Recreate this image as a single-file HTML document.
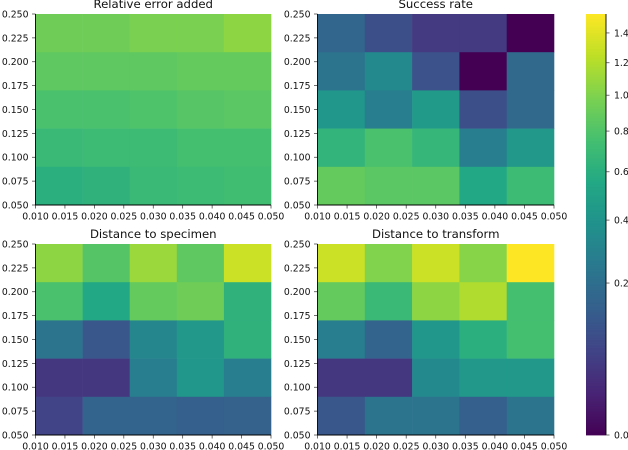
<!DOCTYPE html>
<html>
<head>
<meta charset="utf-8">
<title>Heatmap panels</title>
<style>
html,body{margin:0;padding:0;background:#fff;width:628px;height:450px;overflow:hidden}
svg{display:block}
text{font-family:"DejaVu Sans","Liberation Sans",sans-serif;fill:#111}
</style>
</head>
<body>
<svg id="chart" width="628" height="450" viewBox="0 0 628 450" xmlns="http://www.w3.org/2000/svg"></svg>
<script>
const xTicks = ['0.010','0.015','0.020','0.025','0.030','0.035','0.040','0.045','0.050'];
const yTicks = ['0.050','0.075','0.100','0.125','0.150','0.175','0.200','0.225','0.250'];
const colorbarTicks = [0, 0.2, 0.4, 0.6, 0.8, 1.0, 1.2, 1.4];
const titles = ['Relative error added', 'Success rate', 'Distance to specimen', 'Distance to transform'];
// rows run from the top of the panel to the bottom
const relativeError = [
  [0.934, 0.934, 0.982, 0.982, 1.057],
  [0.863, 0.863, 0.863, 0.887, 0.887],
  [0.774, 0.774, 0.796, 0.829, 0.841],
  [0.689, 0.710, 0.710, 0.752, 0.752],
  [0.609, 0.629, 0.689, 0.710, 0.731]
];
const successRate = [
  [0.167, 0.088, 0.044, 0.044, 0.000],
  [0.222, 0.339, 0.096, 0.000, 0.177],
  [0.415, 0.271, 0.448, 0.088, 0.177],
  [0.649, 0.774, 0.669, 0.271, 0.431],
  [0.887, 0.841, 0.841, 0.553, 0.710]
];
const distanceSpecimen = [
  [1.057, 0.818, 1.109, 0.863, 1.299],
  [0.774, 0.553, 0.887, 0.934, 0.629],
  [0.222, 0.112, 0.325, 0.430, 0.629],
  [0.039, 0.039, 0.271, 0.415, 0.271],
  [0.061, 0.157, 0.157, 0.138, 0.148]
];
const distanceTransform = [
  [1.299, 1.007, 1.299, 1.032, 1.535],
  [0.887, 0.689, 1.057, 1.189, 0.752],
  [0.271, 0.157, 0.415, 0.609, 0.752],
  [0.039, 0.039, 0.339, 0.431, 0.431],
  [0.112, 0.222, 0.222, 0.138, 0.222]
];
const panelData = [relativeError, successRate, distanceSpecimen, distanceTransform];
const vMax = 1.535;
const viridis = ['#440154','#482475','#414487','#355f8d','#2a788e','#21918c','#22a884','#44bf70','#7ad151','#bddf26','#fde725'];

const NS = 'http://www.w3.org/2000/svg';
const svg = document.getElementById('chart');
const layout = [
  {x0: 35.5, x1: 271, y0: 14, y1: 205},
  {x0: 317.5, x1: 554, y0: 14, y1: 205},
  {x0: 35.5, x1: 271, y0: 244, y1: 435},
  {x0: 317.5, x1: 554, y0: 244, y1: 435}
];
const bar = {x0: 586, x1: 606, y0: 14, y1: 435};

function el(tag, attrs, parent) {
  const e = document.createElementNS(NS, tag);
  for (const k in attrs) e.setAttribute(k, attrs[k]);
  (parent || svg).appendChild(e);
  return e;
}
function hexToRgb(h) {
  return [1, 3, 5].map(i => parseInt(h.substr(i, 2), 16));
}
function norm(v) {
  return Math.sqrt(Math.max(0, Math.min(1, v / vMax)));
}
function colorOf(v) {
  const t = norm(v) * (viridis.length - 1);
  const i = Math.min(viridis.length - 2, Math.floor(t));
  const f = t - i;
  const a = hexToRgb(viridis[i]);
  const b = hexToRgb(viridis[i + 1]);
  return 'rgb(' + a.map((c, k) => Math.round(c + (b[k] - c) * f)).join(',') + ')';
}

panelData.forEach((rows, p) => {
  const box = layout[p];
  const g = el('g', {});
  
  

  const nRows = rows.length;
  const nCols = rows[0].length;
  const sx = i => box.x0 + (box.x1 - box.x0) * i / nCols;
  const sy = j => box.y0 + (box.y1 - box.y0) * j / nRows;

  rows.forEach((row, j) => {
    row.forEach((v, i) => {
      const cell = el('rect', {
        x: sx(i), y: sy(j),
        width: sx(i + 1) - sx(i) + 0.3,
        height: sy(j + 1) - sy(j) + 0.3,
        fill: colorOf(v)
      }, g);
      
      
    });
  });

  const title = el('text', {
    x: (box.x0 + box.x1) / 2, y: box.y0 - 6,
    'text-anchor': 'middle', 'font-size': '11.7'
  }, g);
  title.textContent = titles[p];
  
  

  xTicks.forEach((label, i) => {
    const x = box.x0 + (box.x1 - box.x0) * i / (xTicks.length - 1);
    const tick = el('line', {x1: x, x2: x, y1: box.y1, y2: box.y1 + 3.5, stroke: '#333', 'stroke-width': 0.7}, g);
    
    
    const t = el('text', {x: x, y: box.y1 + 14.5, 'text-anchor': 'middle', 'font-size': '9.3'}, g);
    t.textContent = label;
    
    
  });

  yTicks.forEach((label, i) => {
    const y = box.y1 - (box.y1 - box.y0) * i / (yTicks.length - 1);
    const tick = el('line', {x1: box.x0 - 3.5, x2: box.x0, y1: y, y2: y, stroke: '#333', 'stroke-width': 0.7}, g);
    
    
    const t = el('text', {x: box.x0 - 7, y: y + 3.4, 'text-anchor': 'end', 'font-size': '9.3'}, g);
    t.textContent = label;
    
    
  });

  const left = el('line', {x1: box.x0, x2: box.x0, y1: box.y0, y2: box.y1 + 0.4, stroke: '#000', 'stroke-width': 0.9}, g);
  
  
  const bottom = el('line', {x1: box.x0, x2: box.x1, y1: box.y1, y2: box.y1, stroke: '#000', 'stroke-width': 0.9}, g);
  
  
});

const cbar = el('g', {});


const barHeight = bar.y1 - bar.y0;
for (let k = 0; k < 256; k++) {
  const frac = (k + 0.5) / 256;
  const strip = el('rect', {
    x: bar.x0,
    y: bar.y1 - barHeight * (k + 1) / 256,
    width: bar.x1 - bar.x0,
    height: barHeight / 256 + 0.4,
    fill: colorOf(frac * frac * vMax)
  }, cbar);
  
  
}
const cbarLine = el('line', {x1: bar.x1, x2: bar.x1, y1: bar.y0, y2: bar.y1, stroke: '#000', 'stroke-width': 0.9}, cbar);


colorbarTicks.forEach(v => {
  const y = bar.y1 - barHeight * norm(v);
  const tick = el('line', {x1: bar.x1, x2: bar.x1 + 3.5, y1: y, y2: y, stroke: '#333', 'stroke-width': 0.7}, cbar);
  
  
  const t = el('text', {x: bar.x1 + 8, y: y + 3.4, 'font-size': '9.3'}, cbar);
  t.textContent = v.toFixed(1);
  
  
});
</script>
</body>
</html>
